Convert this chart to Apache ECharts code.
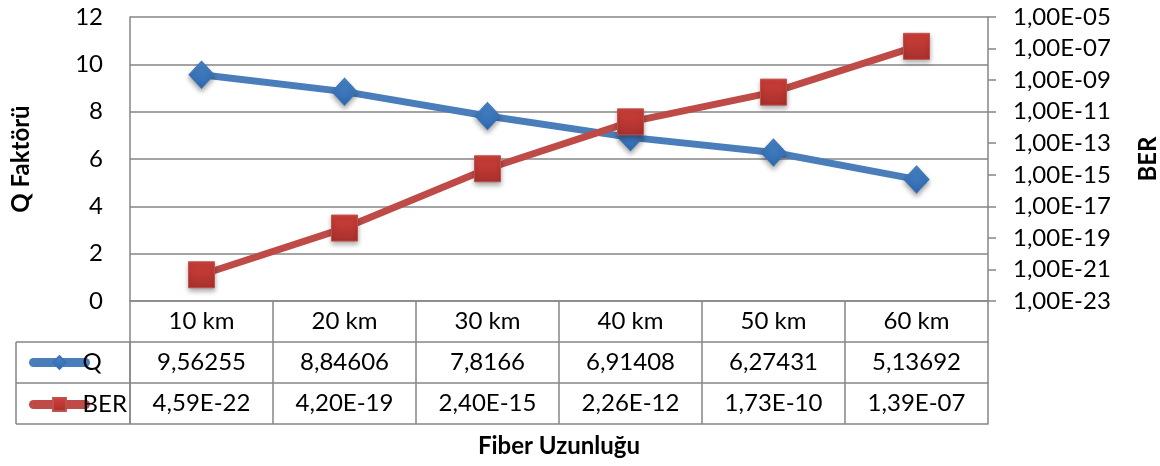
<!DOCTYPE html>
<html>
<head>
<meta charset="utf-8">
<script src="https://cdn.jsdelivr.net/npm/echarts@6/dist/echarts.min.js"></script>
<style>
  html, body { margin: 0; padding: 0; background: #fff; }
  #chart { width: 1160px; height: 466px; }
</style>
</head>
<body>
<div id="chart"></div>
<script>
// chart data
var categories = ["10 km", "20 km", "30 km", "40 km", "50 km", "60 km"];
var qValues = [9.56255, 8.84606, 7.8166, 6.91408, 6.27431, 5.13692];
var berValues = [4.59e-22, 4.20e-19, 2.40e-15, 2.26e-12, 1.73e-10, 1.39e-07];
var berTicks = [1e-23, 1e-21, 1e-19, 1e-17, 1e-15, 1e-13, 1e-11, 1e-9, 1e-7, 1e-5];

var FONT = "Lato";
var GRAY = "#868686";

function pad2(n) {
  return (n < 10 ? "0" : "") + n;
}
// 4.59e-22 -> "4,59E-22"
function fmtExp(v, digits) {
  var s = v.toExponential(digits).split("e");
  var exp = parseInt(s[1], 10);
  return s[0].replace(".", ",") + "E" + (exp < 0 ? "-" : "+") + pad2(Math.abs(exp));
}
function fmtQ(v) {
  return String(v).replace(".", ",");
}

var chart = echarts.init(document.getElementById("chart"));

var tableAxis = function (offset, formatter) {
  return {
    type: "category",
    position: "bottom",
    offset: offset,
    data: categories,
    boundaryGap: true,
    axisLine: { show: true, lineStyle: { color: GRAY, width: 1.5 } },
    axisTick: { show: true, interval: 0, length: 41, lineStyle: { color: GRAY, width: 1.5 } },
    axisLabel: {
      show: true,
      interval: 0,
      margin: 8,
      fontFamily: FONT,
      fontSize: 24,
      color: "#000",
      formatter: formatter
    },
    splitLine: { show: false }
  };
};

var option = {
  animation: false,
  backgroundColor: "#fff",
  grid: { left: 130, right: 172, top: 17, bottom: 165, containLabel: false, outerBoundsMode: "none" },
  legend: {
    orient: "vertical",
    left: 24,
    top: 345,
    itemWidth: 52,
    itemHeight: 16,
    itemGap: 17,
    lineStyle: { width: 9, cap: "round" },
    textStyle: { fontFamily: FONT, fontSize: 24, color: "#000", lineHeight: 25, padding: [0, 0, 0, -8] },
    data: ["Q", "BER"]
  },
  xAxis: [
    tableAxis(0, function (v) { return v; }),
    tableAxis(41, function (v, i) { return fmtQ(qValues[i]); }),
    tableAxis(82, function (v, i) { return fmtExp(berValues[i], 2); }),
    {
      type: "category",
      position: "bottom",
      offset: 123,
      data: categories,
      axisLine: { show: true, lineStyle: { color: GRAY, width: 1.5 } },
      axisTick: { show: false },
      axisLabel: { show: false },
      name: "Fiber Uzunluğu",
      nameLocation: "middle",
      nameGap: 10,
      nameTextStyle: { fontFamily: FONT, fontSize: 24, fontWeight: "bold", color: "#000", verticalAlign: "top" }
    }
  ],
  yAxis: [
    {
      type: "value",
      min: 0,
      max: 12,
      interval: 2,
      position: "left",
      name: "Q Faktörü",
      nameLocation: "middle",
      nameGap: 97,
      nameTextStyle: { fontFamily: FONT, fontSize: 24, fontWeight: "bold", color: "#000" },
      axisLine: { show: true, lineStyle: { color: GRAY, width: 1.5 } },
      axisTick: { show: false },
      axisLabel: { margin: 27, fontFamily: FONT, fontSize: 24, color: "#000" },
      splitLine: { show: true, lineStyle: { color: GRAY, width: 1.5 } }
    },
    {
      type: "log",
      logBase: 10,
      min: 1e-23,
      max: 1e-5,
      position: "right",
      name: "BER",
      nameLocation: "middle",
      nameGap: 148,
      nameTextStyle: { fontFamily: FONT, fontSize: 24, fontWeight: "bold", color: "#000", verticalAlign: "top" },
      axisLine: { show: true, lineStyle: { color: GRAY, width: 1.5 } },
      axisTick: { show: true, length: 8, customValues: berTicks, lineStyle: { color: GRAY, width: 1.5 } },
      axisLabel: {
        margin: 25,
        fontFamily: FONT,
        fontSize: 24,
        color: "#000",
        customValues: berTicks,
        formatter: function (v) { return fmtExp(v, 2); }
      },
      splitLine: { show: false }
    }
  ],
  series: [
    {
      name: "Q",
      type: "line",
      xAxisIndex: 0,
      yAxisIndex: 0,
      data: qValues,
      symbol: "diamond",
      symbolSize: [25, 27],
      lineStyle: { color: "#4A7EBB", width: 7 },
      itemStyle: {
        color: new echarts.graphic.LinearGradient(0, 0, 0, 1, [
          { offset: 0, color: "#4A88CC" },
          { offset: 1, color: "#2F68AE" }
        ]),
        borderColor: "#3A73B5",
        borderWidth: 1,
        shadowColor: "rgba(0,0,0,0.35)",
        shadowBlur: 5,
        shadowOffsetY: 3
      }
    },
    {
      name: "BER",
      type: "line",
      xAxisIndex: 0,
      yAxisIndex: 1,
      data: berValues,
      symbol: "rect",
      symbolSize: 26,
      lineStyle: { color: "#BE4B48", width: 7 },
      itemStyle: {
        color: new echarts.graphic.LinearGradient(0, 0, 0, 1, [
          { offset: 0, color: "#D1403A" },
          { offset: 1, color: "#A8302C" }
        ]),
        borderColor: "#C0504D",
        borderWidth: 1,
        shadowColor: "rgba(0,0,0,0.35)",
        shadowBlur: 5,
        shadowOffsetY: 3
      }
    }
  ],
  graphic: [
    // left column of the data table (legend keys)
    { type: "line", shape: { x1: 16, y1: 342, x2: 130, y2: 342 }, style: { stroke: GRAY, lineWidth: 1.5 } },
    { type: "line", shape: { x1: 16, y1: 383, x2: 130, y2: 383 }, style: { stroke: GRAY, lineWidth: 1.5 } },
    { type: "line", shape: { x1: 16, y1: 424, x2: 130, y2: 424 }, style: { stroke: GRAY, lineWidth: 1.5 } },
    { type: "line", shape: { x1: 16, y1: 342, x2: 16, y2: 424 }, style: { stroke: GRAY, lineWidth: 1.5 } },
    { type: "line", shape: { x1: 130, y1: 342, x2: 130, y2: 424 }, style: { stroke: GRAY, lineWidth: 1.5 } }
  ]
};

chart.setOption(option);
</script>
</body>
</html>
